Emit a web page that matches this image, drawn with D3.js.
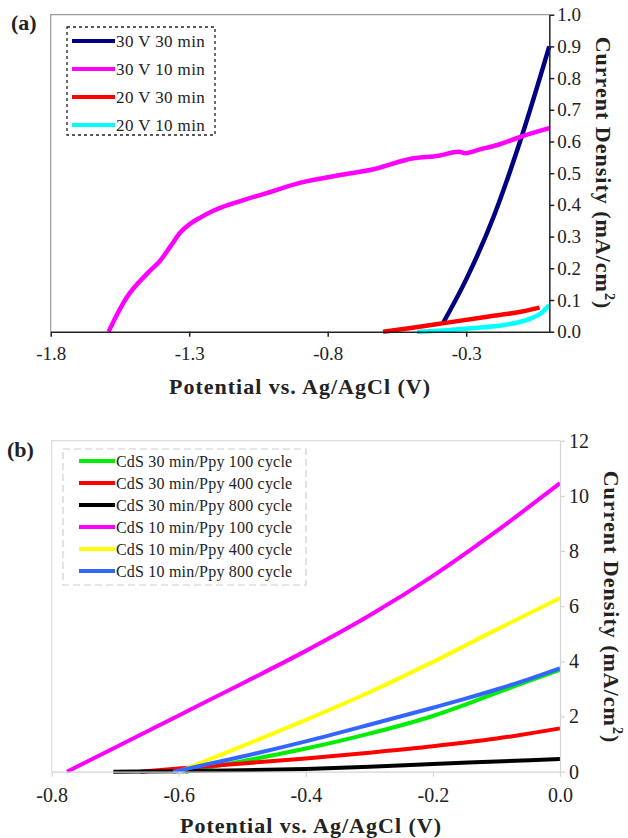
<!DOCTYPE html>
<html>
<head>
<meta charset="utf-8">
<script src="https://cdn.jsdelivr.net/npm/d3@7"></script>
<style>
body{margin:0;background:#fff}
text{font-family:"Liberation Serif","Times New Roman",serif;fill:#222}
</style>
</head>
<body>
<div></div>
<script>
// panel (a) : photocurrent of CdS films, [potential V, current mA/cm2]
const a30V30min = [[-0.385,0.025],[-0.3,0.165],[-0.2,0.365],[-0.1,0.615],[0,0.90]]
const a30V10min = [[-1.591,0],[-1.56,0.055],[-1.524,0.11],[-1.451,0.184],[-1.403,0.226],[-1.367,0.27],[-1.33,0.315],[-1.3,0.338],[-1.26,0.36],[-1.209,0.383],[-1.112,0.413],[-1.029,0.435],[-0.894,0.471],[-0.75,0.495],[-0.648,0.51],[-0.49,0.547],[-0.40,0.555],[-0.327,0.568],[-0.303,0.563],[-0.25,0.575],[-0.187,0.589],[-0.103,0.615],[0,0.642]]
const a20V30min = [[-0.60,0],[-0.50,0.012],[-0.381,0.027],[-0.224,0.047],[-0.103,0.063],[-0.035,0.076]]
const a20V10min = [[-0.478,0],[-0.38,0.004],[-0.284,0.011],[-0.163,0.021],[-0.066,0.042],[-0.03,0.058],[0,0.084]]
const aNames = ["30 V 30 min","30 V 10 min","20 V 30 min","20 V 10 min"]
const aColors = ["#000080","#ff00ff","#ff0000","#00ffff"]
const aXTicks = [-1.8,-1.3,-0.8,-0.3]
const aYTicks = [0,0.1,0.2,0.3,0.4,0.5,0.6,0.7,0.8,0.9,1.0]

// panel (b) : CdS/Ppy films
const b30min100 = [[-0.59,0],[-0.5,0.38],[-0.4,0.84],[-0.3,1.38],[-0.2,2.02],[-0.15,2.42],[-0.1,2.86],[-0.05,3.28],[0,3.69]]
const b30min400 = [[-0.66,0],[-0.6,0.12],[-0.5,0.3],[-0.4,0.48],[-0.3,0.69],[-0.2,0.92],[-0.1,1.2],[0,1.57]]
const b30min800 = [[-0.703,0],[-0.6,0.02],[-0.5,0.05],[-0.4,0.1],[-0.3,0.18],[-0.2,0.28],[-0.1,0.37],[0,0.46]]
const b10min100 = [[-0.776,0],[-0.7,0.88],[-0.6,2.04],[-0.5,3.2],[-0.4,4.38],[-0.3,5.66],[-0.2,7.1],[-0.1,8.72],[0,10.46]]
const b10min400 = [[-0.6,0],[-0.5,0.93],[-0.4,1.88],[-0.3,2.88],[-0.2,3.98],[-0.1,5.15],[0,6.3]]
const b10min800 = [[-0.609,0],[-0.5,0.55],[-0.4,1.1],[-0.3,1.7],[-0.2,2.32],[-0.15,2.64],[-0.1,2.98],[-0.05,3.35],[0,3.75]]
const bNames = ["CdS 30 min/Ppy 100 cycle","CdS 30 min/Ppy 400 cycle","CdS 30 min/Ppy 800 cycle","CdS 10 min/Ppy 100 cycle","CdS 10 min/Ppy 400 cycle","CdS 10 min/Ppy 800 cycle"]
const bColors = ["#00ee00","#ff0000","#000000","#ff00ff","#ffff00","#3366ff"]
const bXTicks = [-0.8,-0.6,-0.4,-0.2,0.0]
const bYTicks = [0,2,4,6,8,10,12]

const svg = d3.select("div").append("svg").attr("width",628).attr("height",838)

function translate(x,y){return `translate(${x}, ${y})`}
// plain hyphen for negatives, like the original figure
const fmt1 = d=>d3.format(".1f")(d).replace("\u2212","-")

function yTitle(g,x,y){
    const t = g.append("text").attr("transform",translate(x,y)+" rotate(90)")
        .attr("text-anchor","middle").attr("font-size",22).attr("font-weight","bold")
        .attr("letter-spacing",1)
    t.append("tspan").text("Current Density (mA/cm")
    t.append("tspan").attr("font-size",14).attr("dy",-9).text("2")
    t.append("tspan").attr("dy",9).text(")")
}

//---------------- panel (a)
const aBox = {left:50.7,right:549.3,top:14.7,bottom:331.7}
const ax = d3.scaleLinear().domain([-1.8,0]).range([aBox.left,aBox.right])
const ay = d3.scaleLinear().domain([0,1]).range([aBox.bottom,aBox.top])
const ga = svg.append("g")

ga.append("path").attr("d",`M${aBox.left},${aBox.bottom}V${aBox.top}H${aBox.right}`)
    .attr("fill","none").attr("stroke","#9a9a9a").attr("stroke-width",1.2)

const aLine = d3.line().x(d=>ax(d[0])).y(d=>ay(d[1])).curve(d3.curveMonotoneX)
;[a30V30min,a30V10min,a20V30min,a20V10min].forEach((s,i)=>{
    ga.append("path").datum(s).attr("d",aLine).attr("fill","none")
        .attr("stroke",aColors[i]).attr("stroke-width",4.5).attr("stroke-linejoin","round")
})

const aXAxis = ga.append("g").attr("transform",translate(0,aBox.bottom))
    .call(d3.axisBottom(ax).tickValues(aXTicks).tickFormat(fmt1).tickSize(5).tickSizeOuter(0))
const aYAxis = ga.append("g").attr("transform",translate(aBox.right,0))
    .call(d3.axisRight(ay).tickValues(aYTicks).tickFormat(fmt1).tickSize(5).tickSizeOuter(0))
;[aXAxis,aYAxis].forEach(g=>{
    g.select(".domain").attr("stroke","#222").attr("stroke-width",1.5)
    g.selectAll(".tick line").attr("stroke","#222").attr("stroke-width",1.5)
    g.selectAll("text").attr("font-family","Liberation Serif").attr("font-size",19).attr("fill","#222")
})
aXAxis.selectAll("text").attr("dy","1.05em")
aYAxis.selectAll("text").attr("x",8)

ga.append("text").attr("x",300).attr("y",394).attr("text-anchor","middle")
    .attr("font-size",22).attr("font-weight","bold").attr("letter-spacing",1)
    .text("Potential vs. Ag/AgCl (V)")
yTitle(ga,596,173)
ga.append("text").attr("x",11).attr("y",30).attr("font-size",22).attr("font-weight","bold").text("(a)")

// legend (a)
ga.append("rect").attr("x",67).attr("y",27).attr("width",148).attr("height",108)
    .attr("fill","none").attr("stroke","#222").attr("stroke-width",1.3).attr("stroke-dasharray","3,3")
const aLeg = ga.selectAll("g.aleg").data(aNames).join("g").attr("class","aleg")
    .attr("transform",(d,i)=>translate(72,41+i*28))
aLeg.append("line").attr("x1",0).attr("x2",43).attr("stroke",(d,i)=>aColors[i]).attr("stroke-width",4)
aLeg.append("text").attr("x",44).attr("dy","0.35em").attr("font-size",17).attr("letter-spacing",0.4).text(d=>d)

//---------------- panel (b)
const bBox = {left:51.7,right:560,top:440.7,bottom:771.7}
const bx = d3.scaleLinear().domain([-0.8,0]).range([bBox.left,bBox.right])
const by = d3.scaleLinear().domain([0,12]).range([bBox.bottom,bBox.top])
const gb = svg.append("g")

gb.append("path").attr("d",`M${bBox.left},${bBox.bottom}V${bBox.top}H${bBox.right}`)
    .attr("fill","none").attr("stroke","#dcdcdc").attr("stroke-width",1.2)

// legend (b) box sits under the curves
gb.append("rect").attr("x",63).attr("y",449).attr("width",243).attr("height",136)
    .attr("fill","none").attr("stroke","#cfcfcf").attr("stroke-width",1.2).attr("stroke-dasharray","7,4")

const bLine = d3.line().x(d=>bx(d[0])).y(d=>by(d[1])).curve(d3.curveMonotoneX)
;[b30min100,b30min400,b30min800,b10min100,b10min400,b10min800].forEach((s,i)=>{
    gb.append("path").datum(s).attr("d",bLine).attr("fill","none")
        .attr("stroke",bColors[i]).attr("stroke-width",4).attr("stroke-linejoin","round")
})

const bXAxis = gb.append("g").attr("transform",translate(0,bBox.bottom))
    .call(d3.axisBottom(bx).tickValues(bXTicks).tickFormat(fmt1).tickSize(5).tickSizeOuter(0))
const bYAxis = gb.append("g").attr("transform",translate(bBox.right,0))
    .call(d3.axisRight(by).tickValues(bYTicks).tickFormat(d3.format("d")).tickSize(5).tickSizeOuter(0))
;[bXAxis,bYAxis].forEach(g=>{
    g.select(".domain").attr("stroke","#d4d4d4").attr("stroke-width",1.2)
    g.selectAll(".tick line").attr("stroke","#d4d4d4").attr("stroke-width",1.2)
    g.selectAll("text").attr("font-family","Liberation Serif").attr("font-size",20).attr("fill","#222")
})
bXAxis.selectAll("text").attr("dy","1.1em")
bYAxis.selectAll("text").attr("x",9)

gb.append("text").attr("x",311).attr("y",833).attr("text-anchor","middle")
    .attr("font-size",22).attr("font-weight","bold").attr("letter-spacing",1)
    .text("Potential vs. Ag/AgCl (V)")
yTitle(gb,604,607)
gb.append("text").attr("x",7).attr("y",457).attr("font-size",22).attr("font-weight","bold").text("(b)")

const bLeg = gb.selectAll("g.bleg").data(bNames).join("g").attr("class","bleg")
    .attr("transform",(d,i)=>translate(79,461+i*22))
bLeg.append("line").attr("x1",0).attr("x2",36).attr("stroke",(d,i)=>bColors[i]).attr("stroke-width",4)
bLeg.append("text").attr("x",37).attr("dy","0.35em").attr("font-size",16).attr("letter-spacing",0.2).text(d=>d)
</script>
</body>
</html>
